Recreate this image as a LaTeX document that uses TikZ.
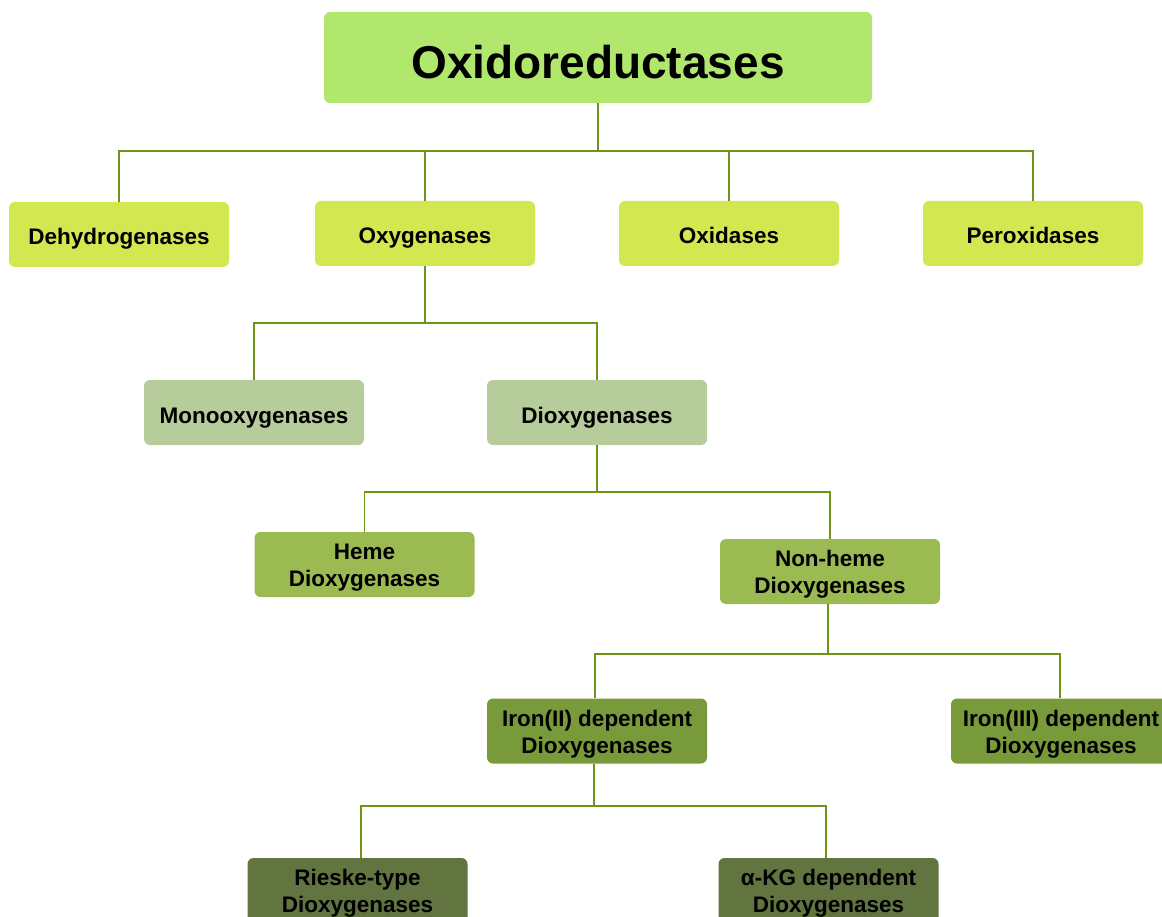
\documentclass[tikz,border=0pt]{standalone}
\usepackage{fontspec}
\setmainfont{Liberation Sans}
\definecolor{cTitle}{HTML}{B1E76D}
\definecolor{cRowA}{HTML}{D3E751}
\definecolor{cRowB}{HTML}{B6CC9B}
\definecolor{cRowC}{HTML}{9BBA52}
\definecolor{cRowD}{HTML}{789A3A}
\definecolor{cRowE}{HTML}{62743F}
\definecolor{cLine}{HTML}{6F9418}
\newcommand\highstrut{\rule{0pt}{22.5pt}}
\begin{document}
\begin{tikzpicture}[x=1pt,y=-1pt,
  box/.style={rounded corners=6pt, minimum width=220pt, minimum height=65pt,
    inner sep=0pt, align=center, font=\fontsize{22.5}{27}\selectfont\bfseries, text=black},
  oneline/.style={box, text height=21pt, text depth=0pt},
  twoline/.style={box},
  link/.style={draw=cLine, line width=1.8pt}]
\useasboundingbox (0,0) rectangle (1162,917);
\clip (0,0) rectangle (1162,917);
\node[box, fill=cTitle, minimum width=548pt, minimum height=91pt,
  text height=42pt, text depth=0pt,
  font=\fontsize{46}{50}\selectfont\bfseries] (title) at (598,57.5) {Oxidoreductases};
\node[oneline, fill=cRowA] (dehy) at (119,234.5) {Dehydrogenases};
\node[oneline, fill=cRowA] (oxy) at (425,233.5) {Oxygenases};
\node[oneline, fill=cRowA] (oxid) at (729,233.5) {Oxidases};
\node[oneline, fill=cRowA] (perox) at (1033,233.5) {Peroxidases};
\node[oneline, fill=cRowB] (mono) at (254,412.5) {Monooxygenases};
\node[oneline, fill=cRowB] (diox) at (597,412.5) {Dioxygenases};
\node[twoline, fill=cRowC] (heme) at (364.5,564.5) {\highstrut Heme\\Dioxygenases};
\node[twoline, fill=cRowC] (nonheme) at (830,571.5) {\highstrut Non-heme\\Dioxygenases};
\node[twoline, fill=cRowD] (irontwo) at (597,731) {\highstrut Iron(II) dependent\\Dioxygenases};
\node[twoline, fill=cRowD] (ironthree) at (1061,731) {\highstrut Iron(III) dependent\\Dioxygenases};
\node[twoline, fill=cRowE] (rieske) at (357.5,890.5) {\highstrut Rieske-type\\Dioxygenases};
\node[twoline, fill=cRowE] (akg) at (828.5,890.5) {\highstrut α-KG dependent\\Dioxygenases};
% connectors
\coordinate (ba) at (598,151);
\coordinate (bb) at (425,323);
\coordinate (bc) at (597,492);
\coordinate (bd) at (828,654);
\coordinate (be) at (594,806);
\draw[link] (title.south) -- (ba);
\draw[link] (ba) -| (dehy.north);
\draw[link] (ba) -| (oxy.north);
\draw[link] (ba) -| (oxid.north);
\draw[link] (ba) -| (perox.north);
\draw[link] (oxy.south) -- (bb);
\draw[link] (bb) -| (mono.north);
\draw[link] (bb) -| (diox.north);
\draw[link] (diox.south) -- (bc);
\draw[link] (bc) -| (heme.north);
\draw[link] (bc) -| (nonheme.north);
\draw[link] (nonheme.south -| bd) -- (bd);
\draw[link] (bd) -| ([xshift=-2pt]irontwo.north);
\draw[link] (bd) -| ([xshift=-1pt]ironthree.north);
\draw[link] (irontwo.south -| be) -- (be);
\draw[link] (be) -| ([xshift=3.5pt]rieske.north);
\draw[link] (be) -| ([xshift=-2.5pt]akg.north);
\end{tikzpicture}
\end{document}
